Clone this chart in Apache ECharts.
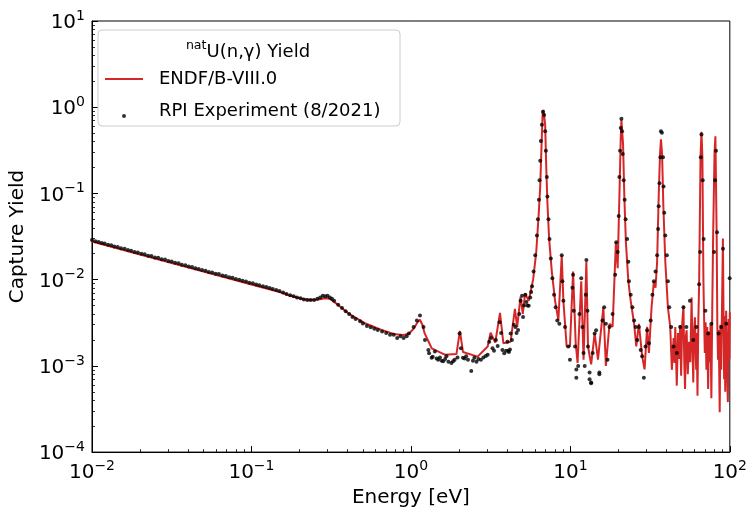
<!DOCTYPE html>
<html>
<head>
<meta charset="utf-8">
<script src="https://cdn.jsdelivr.net/npm/echarts@6.0.0/dist/echarts.min.js"></script>
<style>html,body{margin:0;padding:0;background:#fff;}#chart{width:750px;height:513px;}</style>
</head>
<body>
<div id="chart"></div>
<script>
// ENDF/B-VIII.0 evaluated capture yield
const endfEnergy = [0.01,0.02,0.05,0.1,0.15,0.175,0.2,0.233,0.262,0.29,0.31,0.34,0.41,0.52,0.66,0.80,0.90,0.97,1.04,1.10,1.14,1.18,1.22,1.35,1.63,1.93,2.03,2.12,2.62,3.03,3.16,3.38,3.62,3.80,4.22,4.49,4.64,4.87,5.03,5.20,5.48,5.84,6.11,6.32,6.47,6.59,6.70,6.78,6.95,7.05,7.18,7.36,7.65,8.02,8.41,8.83,9.04,9.48,9.94,10.4,10.8,11.1,11.7,12.1,12.6,12.9,13.5,14.2,14.9,16.1,16.7,17.6,18.4,19.3,19.8,20.3,20.7,20.9,21.4,21.8,22.3,23.1,23.9,25.1,25.9,26.9,28.2,29.2,30.3,31.1,32.3,33.4,34.2,35.0,35.8,36.5,37.0,37.6,38.3,39.4,40.9,42.3,43.3,44.4,45.0,45.5,46.5,47.3,48.1,48.8,49.5,50.3,51.2,51.8,52.4,53.0,53.6,54.5,55.5,56.5,57.6,58.3,59.0,59.7,60.4,61.5,62.0,62.7,63.5,64.2,65.5,66.4,67.3,68.3,69.0,69.7,70.5,71.3,72.2,73.1,74.0,74.9,75.7,76.6,77.6,78.6,80.2,81.2,82.7,83.5,84.3,85.2,86.4,87.3,88.3,89.2,90.5,91.5,92.1,92.7,93.6,94.8,96.0,97.2,98.3,99.5,100];
const endfYield = [0.0277,0.0196,0.0124,0.0088,0.0072,0.0065,0.0061,0.0058,0.0059,0.0061,0.0060,0.0053,0.0040,0.0031,0.0026,0.00232,0.00228,0.00236,0.0027,0.0032,0.00343,0.0030,0.00238,0.0016,0.00135,0.00137,0.00255,0.00145,0.00128,0.00168,0.00242,0.00186,0.00411,0.00183,0.00191,0.00457,0.00283,0.00637,0.0040,0.0069,0.00568,0.0100,0.0209,0.0547,0.120,0.340,0.85,0.93,0.627,0.22,0.0774,0.0297,0.0124,0.00568,0.00337,0.0192,0.00568,0.00168,0.00168,0.0124,0.00183,0.00108,0.00957,0.00118,0.0161,0.00168,0.00104,0.00238,0.00118,0.00478,0.00100,0.00308,0.00283,0.0272,0.0136,0.092,0.443,0.715,0.371,0.092,0.0272,0.00957,0.00568,0.00308,0.00168,0.00308,0.00129,0.00091,0.00283,0.00141,0.00478,0.00957,0.00805,0.0161,0.092,0.286,0.424,0.286,0.071,0.0161,0.00478,0.00283,0.0009,0.0021,0.00108,0.00283,0.00059,0.0024,0.0012,0.00295,0.00077,0.0031,0.00498,0.0011,0.00054,0.0022,0.00259,0.0008,0.0019,0.0011,0.0062,0.0016,0.00064,0.0026,0.00367,0.0009,0.0024,0.00045,0.0035,0.0090,0.262,0.52,0.262,0.00957,0.0035,0.00141,0.0032,0.0009,0.00283,0.00054,0.0025,0.0011,0.0030,0.00042,0.0048,0.0325,0.30,0.46,0.0325,0.0030,0.00118,0.0026,0.00029,0.0030,0.0009,0.0040,0.030,0.0025,0.0007,0.0038,0.00050,0.00437,0.0010,0.00038,0.0035,0.0012,0.0042];

// RPI experiment (8/2021) points
const expEnergy = [0.0100,0.0105,0.0110,0.0115,0.0120,0.0126,0.0132,0.0138,0.0145,0.0152,0.0160,0.0168,0.0176,0.0185,0.0194,0.0204,0.0214,0.0225,0.0236,0.0248,0.0260,0.0273,0.0287,0.0301,0.0316,0.0332,0.0349,0.0366,0.0385,0.0404,0.0424,0.0445,0.0467,0.0490,0.0515,0.0540,0.0567,0.0596,0.0625,0.0657,0.0690,0.0724,0.0760,0.0798,0.0838,0.0880,0.0924,0.0970,0.1020,0.1070,0.1120,0.1180,0.1240,0.1300,0.1360,0.1430,0.1500,0.1580,0.1660,0.1750,0.1840,0.1930,0.2030,0.2130,0.2240,0.2350,0.2470,0.2590,0.2700,0.2800,0.2900,0.3000,0.3100,0.3200,0.3300,0.3500,0.3700,0.3900,0.4100,0.4300,0.4500,0.4800,0.5000,0.5300,0.5600,0.5900,0.6200,0.6600,0.7000,0.7400,0.7800,0.8200,0.8600,0.9000,0.9400,
0.97,1.04,1.09,1.14,1.20,1.225,1.287,1.30,1.349,1.37,1.413,1.45,1.484,1.52,1.56,1.594,1.64,1.671,1.72,1.795,1.84,1.88,1.96,2.02,2.06,2.12,2.17,2.22,2.28,2.39,2.45,2.50,2.58,2.65,2.75,2.85,2.95,3.03,3.10,3.18,3.25,3.32,3.41,3.50,3.60,3.68,3.75,3.85,3.95,4.03,4.08,4.12,4.18,4.22,4.30,4.42,4.53,4.60,4.70,4.78,4.87,4.98,5.05,5.12,5.22,5.30,5.38,5.48,5.60,5.68,5.75,5.88,6.02,6.17,6.26,6.35,6.41,6.47,6.53,6.63,6.73,6.85,6.95,7.02,7.12,7.18,7.29,7.40,7.54,7.71,7.90,8.09,8.28,8.53,8.83,8.91,9.04,9.26,9.70,9.94,10.3,10.4,10.5,10.7,10.9,10.9,11.2,11.4,11.7,11.9,12.1,12.3,12.5,12.6,12.8,12.9,13.2,13.2,13.5,13.5,13.8,14.2,14.5,15.2,15.2,15.9,16.3,16.7,17.1,17.6,18.4,19.1,19.4,19.8,20.1,20.3,20.5,20.7,20.9,21.1,21.3,21.6,21.9,22.2,22.7,23.1,23.3,23.9,24.5,25.1,25.7,26.3,26.9,27.6,28.2,28.9,29.6,30.3,31.1,31.9,32.7,33.4,34.2,35.0,35.5,35.8,36.2,36.7,37.0,37.5,38.1,38.4,38.8,39.4,40.3,40.9,41.7,42.9,44.4,46.5,48.8,51.2,53.4,56.2,59.0,61.7,64.2,65.1,65.8,66.4,67.6,68.5,70.3,73.1,76.6,79.7,80.8,81.9,83.1,85.1,88.4,90.6,95.0,99.8];
const expYield = [0.0288,0.0279,0.0274,0.0266,0.0262,0.0254,0.0250,0.0243,0.0239,0.0231,0.0228,0.0221,0.0217,0.0210,0.0207,0.0200,0.0197,0.0190,0.0188,0.0181,0.0179,0.0173,0.0171,0.0165,0.0162,0.0157,0.0155,0.0149,0.0147,0.0142,0.0140,0.0136,0.0133,0.0129,0.0127,0.0123,0.0121,0.0117,0.0116,0.0112,0.0110,0.0107,0.0105,0.0102,0.0100,0.0097,0.0095,0.0092,0.0091,0.0088,0.0086,0.0084,0.0082,0.0080,0.0078,0.0076,0.0074,0.0071,0.0068,0.0066,0.0064,0.0062,0.0061,0.0059,0.0058,0.0058,0.0058,0.0060,0.0062,0.0065,0.0064,0.0065,0.0062,0.0060,0.0057,0.0051,0.0047,0.0043,0.0040,0.0037,0.0035,0.0033,0.0031,0.0029,0.0028,0.0027,0.0026,0.0025,0.0024,0.0023,0.0023,0.0021,0.0022,0.0021,0.0022,
0.00238,0.00283,0.00336,0.00383,0.00283,0.0020,0.00153,0.0014,0.00124,0.00128,0.00147,0.00122,0.00118,0.00125,0.00115,0.00113,0.0012,0.00129,0.00112,0.00108,0.00113,0.00118,0.00125,0.00238,0.0016,0.00124,0.00122,0.00129,0.00118,0.00087,0.00115,0.00124,0.00112,0.0012,0.00118,0.00125,0.0013,0.00135,0.0019,0.0021,0.0016,0.0015,0.0020,0.0017,0.0032,0.0024,0.00153,0.0014,0.0015,0.00191,0.0015,0.00145,0.00155,0.00238,0.0020,0.0030,0.00283,0.0024,0.0026,0.0040,0.00568,0.0065,0.0037,0.0050,0.0067,0.0055,0.0050,0.00498,0.0062,0.0072,0.0084,0.0124,0.0192,0.0325,0.0502,0.0846,0.1426,0.240,0.406,0.627,0.889,0.813,0.527,0.313,0.1555,0.092,0.0502,0.0297,0.0176,0.0104,0.0067,0.00478,0.00337,0.00308,0.0192,0.00957,0.00568,0.00283,0.00168,0.00118,0.00805,0.0114,0.00437,0.00168,0.00091,0.00073,0.0010,0.0040,0.0104,0.00283,0.00141,0.0010,0.0067,0.0169,0.00437,0.00168,0.00084,0.0007,0.00064,0.00063,0.00141,0.00238,0.00259,0.00084,0.0008,0.00337,0.00478,0.00308,0.00118,0.00283,0.0040,0.0114,0.0272,0.0209,0.0547,0.1555,0.313,0.574,0.733,0.527,0.286,0.1426,0.0846,0.0502,0.0297,0.0161,0.00957,0.0067,0.00478,0.00337,0.00283,0.0020,0.00283,0.00153,0.00129,0.00073,0.00168,0.00259,0.00183,0.00337,0.0067,0.00957,0.0124,0.0192,0.0386,0.071,0.131,0.262,0.527,0.505,0.262,0.12,0.0596,0.0325,0.0192,0.00957,0.00478,0.00283,0.00168,0.00141,0.00283,0.00478,0.00283,0.00568,0.0020,0.00283,0.00883,0.0209,0.262,0.482,0.1426,0.0297,0.00437,0.00238,0.00308,0.0209,0.1426,0.313,0.0354,0.00238,0.00283,0.0229,0.00308,0.0104];

const seriesNames = ['ENDF/B-VIII.0', 'RPI Experiment (8/2021)'];
const legendTitle = '{s|nat}{b|U(n,\u03b3) Yield}';
const xAxisTitle = 'Energy [eV]';
const yAxisTitle = 'Capture Yield';
const xRange = [0.01, 100];
const yRange = [0.0001, 10];
const xMinorTicks = [0.02,0.03,0.04,0.05,0.06,0.07,0.08,0.09,0.2,0.3,0.4,0.5,0.6,0.7,0.8,0.9,2,3,4,5,6,7,8,9,20,30,40,50,60,70,80,90];
const yMinorTicks = [0.0002,0.0003,0.0004,0.0005,0.0006,0.0007,0.0008,0.0009,0.002,0.003,0.004,0.005,0.006,0.007,0.008,0.009,0.02,0.03,0.04,0.05,0.06,0.07,0.08,0.09,0.2,0.3,0.4,0.5,0.6,0.7,0.8,0.9,2,3,4,5,6,7,8,9];

const FONT = 'DejaVu Sans';
const pair = (a, b) => a.map((v, i) => [v, b[i]]);
const powLabel = v => {
  const e = Math.round(Math.log10(v));
  return '{b|10}{s|' + (e < 0 ? '\u2212' + (-e) : String(e)) + '}';
};
const powRich = {
  b: { fontSize: 20, fontFamily: FONT, color: '#000', lineHeight: 24, verticalAlign: 'bottom' },
  s: { fontSize: 14, fontFamily: FONT, color: '#000', lineHeight: 15, verticalAlign: 'top' }
};

const chart = echarts.init(document.getElementById('chart'), null, { renderer: 'canvas' });
const baseAxis = {
  type: 'log', logBase: 10,
  axisLine: { show: true, lineStyle: { color: '#000', width: 1 } },
  axisTick: { show: true, inside: true, length: 6, lineStyle: { color: '#000', width: 1 } },
  splitLine: { show: false }
};
const minorAxis = {
  type: 'log', logBase: 10,
  axisLine: { show: false },
  axisLabel: { show: false },
  splitLine: { show: false }
};
chart.setOption({
  animation: false,
  backgroundColor: '#fff',
  grid: { left: 86, right: 18, top: 21, bottom: 52, show: true, borderColor: '#000', borderWidth: 1, backgroundColor: 'transparent' },
  xAxis: [
    Object.assign({}, baseAxis, {
      min: xRange[0], max: xRange[1], position: 'bottom',
      name: xAxisTitle, nameLocation: 'middle', nameGap: 34,
      nameTextStyle: { fontSize: 20, fontFamily: FONT, color: '#000' },
      axisLabel: { show: true, margin: 7, formatter: powLabel, rich: powRich }
    }),
    Object.assign({}, minorAxis, {
      min: xRange[0], max: xRange[1], position: 'bottom',
      axisTick: { show: true, inside: true, length: 3, customValues: xMinorTicks, lineStyle: { color: '#000', width: 0.8 } }
    })
  ],
  yAxis: [
    Object.assign({}, baseAxis, {
      min: yRange[0], max: yRange[1], position: 'left',
      name: yAxisTitle, nameLocation: 'middle', nameGap: 56,
      nameTextStyle: { fontSize: 20, fontFamily: FONT, color: '#000' },
      axisLabel: { show: true, margin: 7, formatter: powLabel, rich: powRich }
    }),
    Object.assign({}, minorAxis, {
      min: yRange[0], max: yRange[1], position: 'left',
      axisTick: { show: true, inside: true, length: 3, customValues: yMinorTicks, lineStyle: { color: '#000', width: 0.8 } }
    })
  ],
  legend: [
    {
      data: [{ name: seriesNames[0], icon: 'rect' }], orient: 'vertical', left: 105, top: 70, padding: 0,
      itemWidth: 38, itemHeight: 2, symbolKeepAspect: false, selectedMode: false, z: 10,
      textStyle: { fontSize: 18, fontFamily: FONT, color: '#000', padding: [0, 0, 0, 11] }
    },
    {
      data: [{ name: seriesNames[1], icon: 'circle' }], orient: 'vertical', left: 122, top: 102, padding: 0,
      itemWidth: 4, itemHeight: 4, selectedMode: false, z: 10,
      formatter: '{t|{name}}',
      textStyle: {
        fontSize: 18, fontFamily: FONT, color: '#000',
        rich: { t: { fontSize: 18, fontFamily: FONT, color: '#000', lineHeight: 22, padding: [0, 0, 10, 28] } }
      }
    }
  ],
  graphic: [
    {
      type: 'rect', z: 5, silent: true,
      shape: { x: 98, y: 30, width: 302, height: 96, r: 4 },
      style: { fill: 'rgba(255,255,255,0.8)', stroke: '#cccccc', lineWidth: 1 }
    },
    {
      type: 'text', z: 10, silent: true,
      style: {
        x: 248, y: 50, text: legendTitle, align: 'center', verticalAlign: 'middle',
        rich: {
          b: { fontSize: 18, fontFamily: FONT, fill: '#000', lineHeight: 22, verticalAlign: 'bottom' },
          s: { fontSize: 12.6, fontFamily: FONT, fill: '#000', lineHeight: 12, verticalAlign: 'top' }
        }
      }
    }
  ],
  series: [
    {
      name: seriesNames[0], type: 'line', xAxisIndex: 0, yAxisIndex: 0,
      data: pair(endfEnergy, endfYield), symbol: 'none', showSymbol: false,
      lineStyle: { color: '#d62728', width: 2 }, itemStyle: { color: '#d62728' }, z: 2
    },
    {
      name: seriesNames[1], type: 'scatter', xAxisIndex: 0, yAxisIndex: 0,
      data: pair(expEnergy, expYield), symbol: 'circle', symbolSize: 4,
      itemStyle: { color: '#000' }, z: 3
    }
  ]
});
</script>
</body>
</html>
